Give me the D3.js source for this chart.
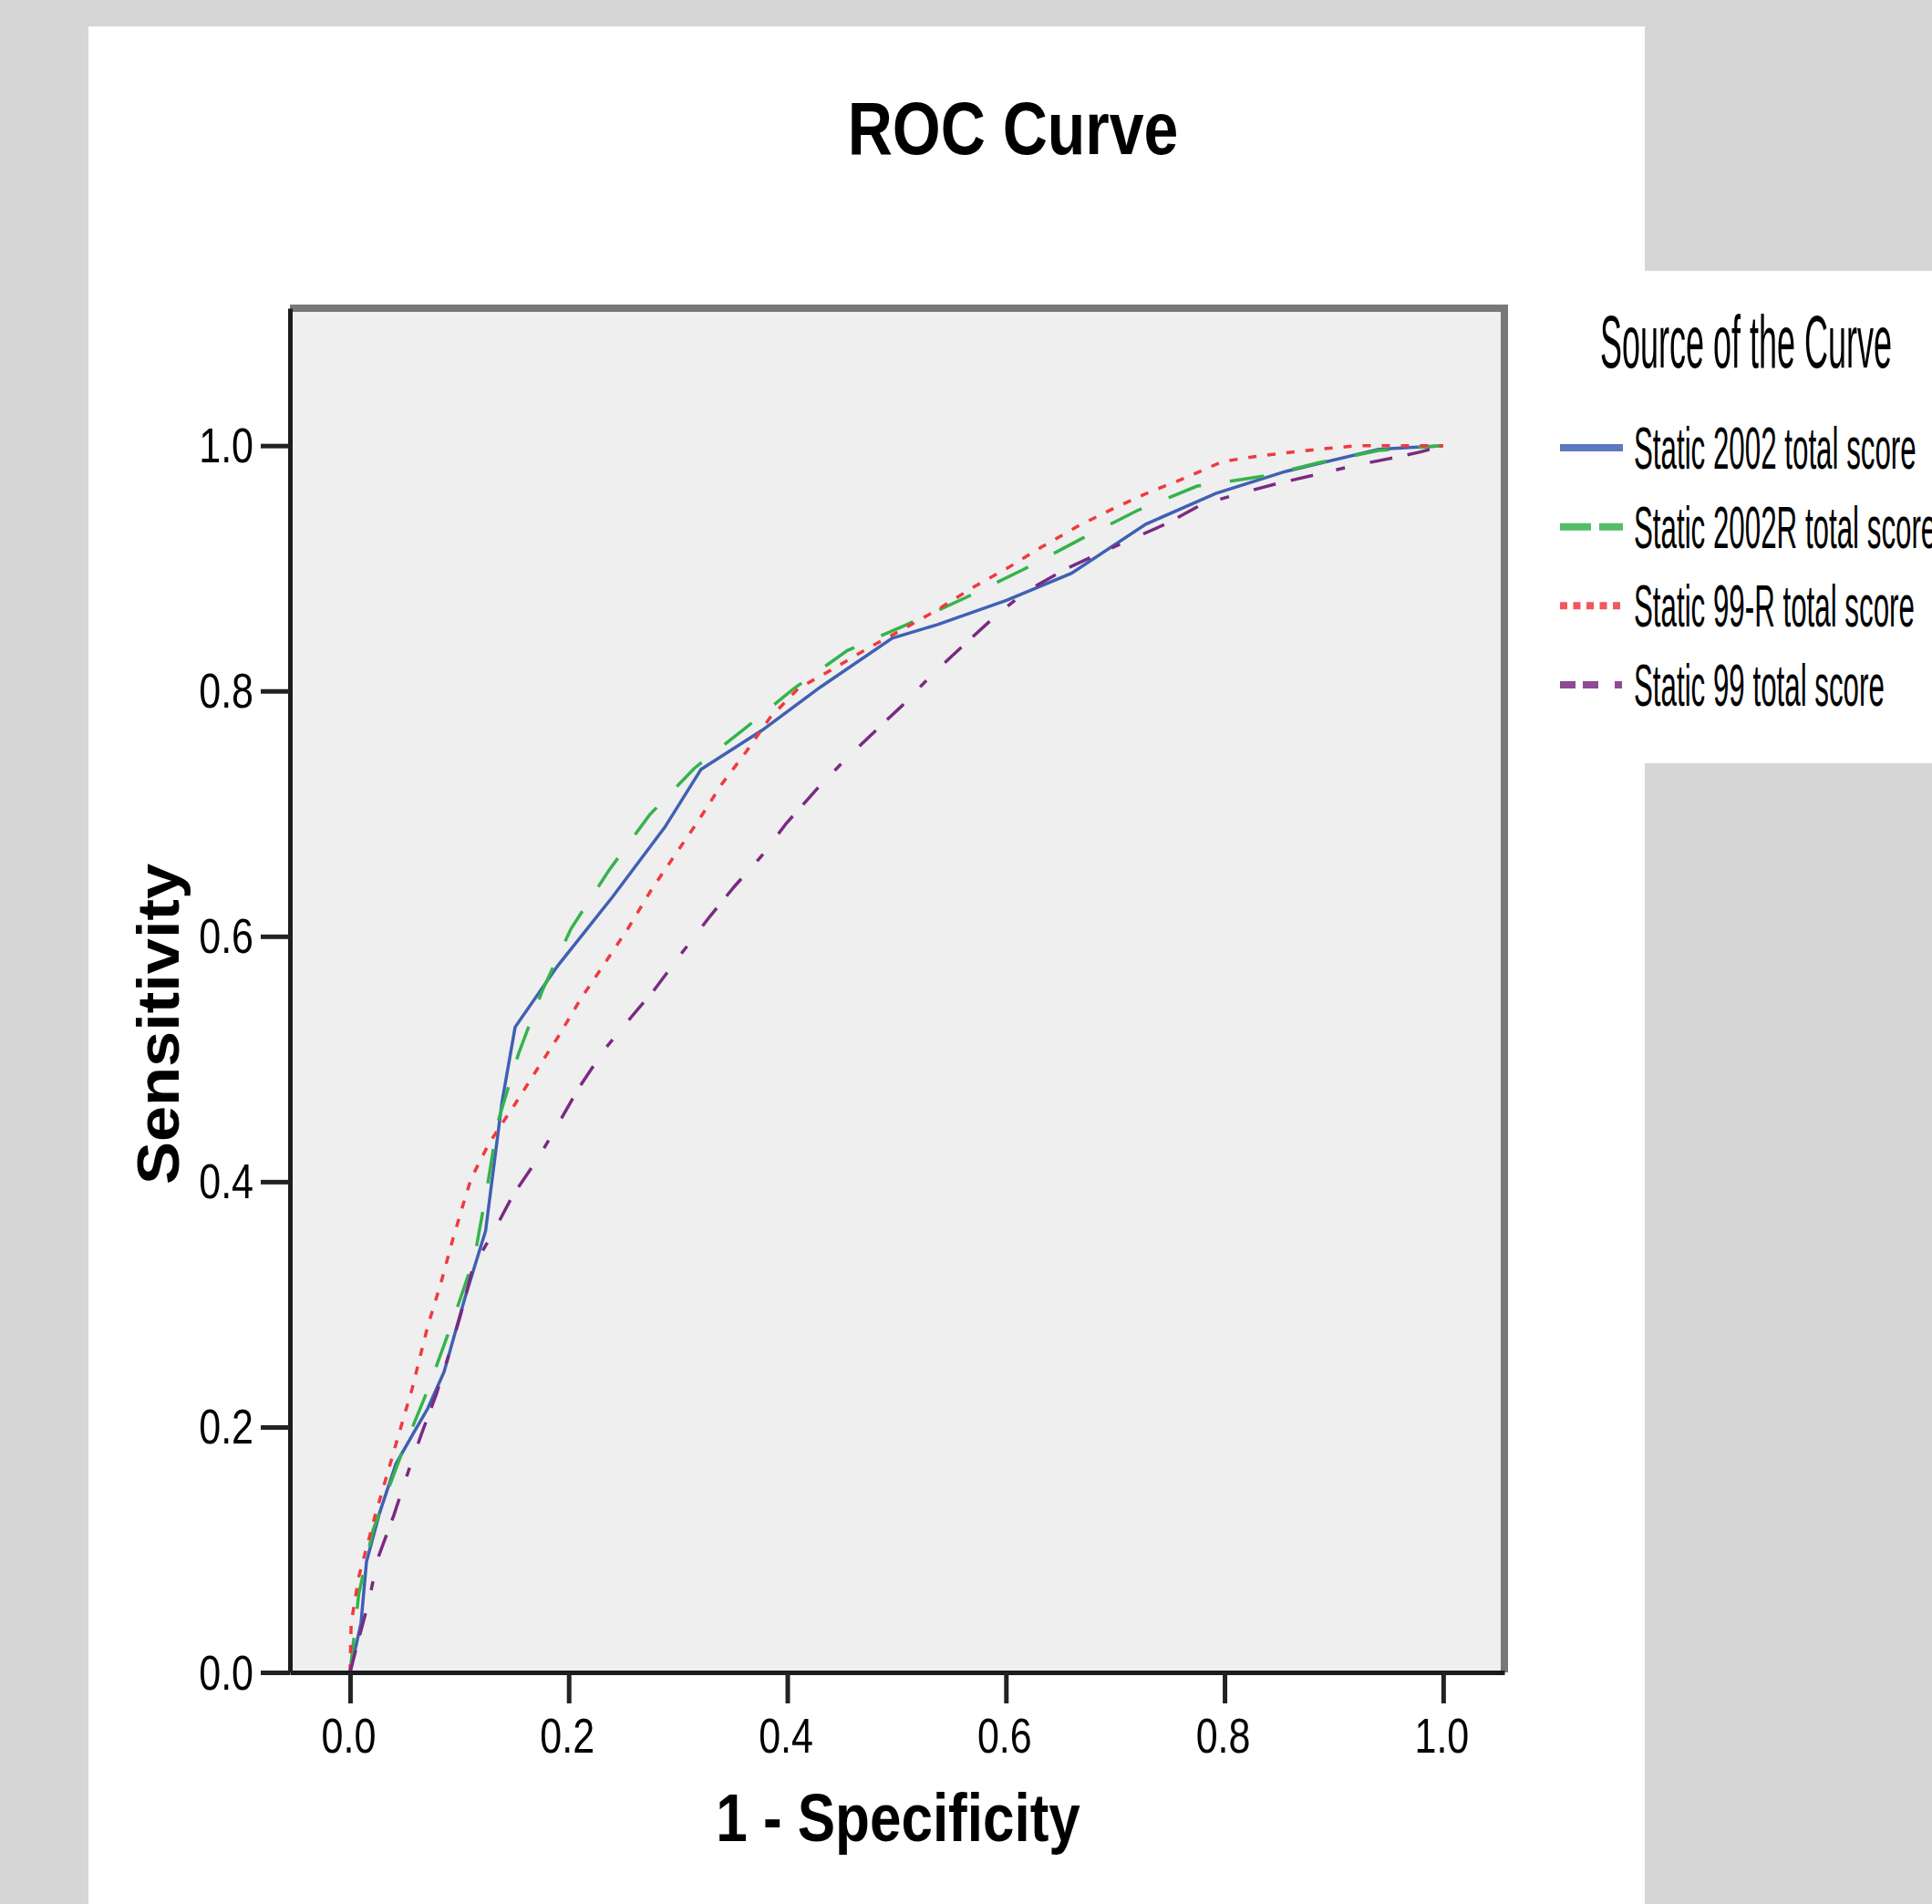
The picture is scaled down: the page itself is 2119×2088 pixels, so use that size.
<!DOCTYPE html>
<html>
<head>
<meta charset="utf-8">
<script src="https://cdn.jsdelivr.net/npm/d3@7/dist/d3.min.js"></script>
<style>
body { margin: 0; background: #d6d6d6; }
svg { display: block; font-family: "Liberation Sans", Arial, sans-serif; }
</style>
</head>
<body>
<div id="roc"></div>
<script>
var static2002 = [[0, 0], [0.005, 0.02], [0.01, 0.04], [0.015, 0.09], [0.027, 0.13], [0.042, 0.17],
    [0.058, 0.195], [0.071, 0.215], [0.086, 0.245], [0.105, 0.305], [0.124, 0.36], [0.139, 0.465],
    [0.151, 0.526], [0.19, 0.576], [0.24, 0.632], [0.288, 0.689], [0.321, 0.736], [0.377, 0.768],
    [0.43, 0.803], [0.496, 0.843], [0.537, 0.854], [0.601, 0.874], [0.66, 0.896], [0.728, 0.936],
    [0.792, 0.961], [0.856, 0.979], [0.941, 0.997], [1, 1]];
var static2002R = [[0, 0], [0.008, 0.064], [0.021, 0.116], [0.047, 0.178], [0.071, 0.23], [0.093, 0.284],
    [0.114, 0.339], [0.125, 0.393], [0.135, 0.448], [0.154, 0.504], [0.176, 0.556], [0.202, 0.606],
    [0.237, 0.654], [0.274, 0.699], [0.315, 0.737], [0.362, 0.77], [0.406, 0.802], [0.455, 0.833],
    [0.509, 0.854], [0.563, 0.876], [0.616, 0.899], [0.669, 0.924], [0.72, 0.947], [0.775, 0.967],
    [0.835, 0.975], [0.886, 0.986], [0.941, 0.996], [1, 1]];
var static99R = [[0, 0], [0.001, 0.04], [0.008, 0.078], [0.023, 0.128], [0.04, 0.18], [0.057, 0.232],
    [0.071, 0.282], [0.083, 0.317], [0.094, 0.353], [0.105, 0.386], [0.111, 0.403], [0.127, 0.431],
    [0.15, 0.462], [0.17, 0.49], [0.191, 0.519], [0.211, 0.549], [0.233, 0.578], [0.254, 0.606],
    [0.275, 0.637], [0.297, 0.666], [0.317, 0.692], [0.34, 0.724], [0.362, 0.75], [0.384, 0.778],
    [0.41, 0.802], [0.44, 0.817], [0.474, 0.835], [0.507, 0.851], [0.537, 0.866], [0.569, 0.884],
    [0.603, 0.901], [0.632, 0.917], [0.665, 0.934], [0.699, 0.949], [0.731, 0.962], [0.765, 0.974],
    [0.798, 0.987], [0.835, 0.992], [0.886, 0.997], [0.922, 1.0], [1, 1]];
var static99 = [[0, 0], [0.006, 0.021], [0.0175, 0.059], [0.025, 0.092], [0.04, 0.128], [0.053, 0.163],
    [0.066, 0.196], [0.079, 0.227], [0.09, 0.258], [0.101, 0.291], [0.112, 0.329], [0.133, 0.362],
    [0.149, 0.389], [0.172, 0.419], [0.191, 0.448], [0.209, 0.476], [0.232, 0.507], [0.258, 0.535],
    [0.278, 0.556], [0.304, 0.587], [0.329, 0.616], [0.351, 0.64], [0.377, 0.666], [0.399, 0.692],
    [0.431, 0.724], [0.452, 0.743], [0.48, 0.767], [0.505, 0.788], [0.532, 0.813], [0.562, 0.838],
    [0.594, 0.864], [0.62, 0.882], [0.656, 0.9], [0.69, 0.914], [0.746, 0.936], [0.779, 0.952],
    [0.814, 0.961], [0.848, 0.969], [0.882, 0.976], [0.92, 0.984], [0.954, 0.99], [0.98, 0.995], [1, 1]];

var seriesNames = ["Static 2002 total score", "Static 2002R total score", "Static 99-R total score", "Static 99 total score"];
var seriesData = [static2002, static2002R, static99R, static99];
var tickValues = [0, 0.2, 0.4, 0.6, 0.8, 1.0];

var colors = ["#4060b4", "#35b34c", "#f03a3e", "#7a2a82"];
var plotDash = [null, "38,32", "9,12", "25,17,25,26,10,28"];
var legendDash = [null, "34,9", "8,6.5", "17,8,17,18,8,18"];

var svgWidth = 2119;
var svgHeight = 2088;
var frame = {left: 318, right: 1650, top: 338, bottom: 1834};

var svg = d3.select("#roc")
    .append("svg")
    .attr("width", svgWidth)
    .attr("height", svgHeight);

// grey page, white chart panel and the legend panel sticking out to the right
svg.append("rect").attr("width", svgWidth).attr("height", svgHeight).attr("fill", "#d6d6d6");
svg.append("rect").attr("x", 97).attr("y", 29).attr("width", 1707).attr("height", svgHeight - 29).attr("fill", "#ffffff");
svg.append("rect").attr("x", 1804).attr("y", 297).attr("width", svgWidth - 1804).attr("height", 540).attr("fill", "#ffffff");

var xScale = d3.scaleLinear()
    .domain([-0.055, 1.056])
    .range([frame.left, frame.right]);
var yScale = d3.scaleLinear()
    .domain([0, 1.112])
    .range([frame.bottom, frame.top]);

svg.append("rect")
    .attr("x", frame.left)
    .attr("y", frame.top)
    .attr("width", frame.right - frame.left)
    .attr("height", frame.bottom - frame.top)
    .attr("fill", "#efefef");

// top and right edge of the frame
svg.append("path")
    .attr("d", "M" + frame.left + "," + frame.top + "H" + frame.right + "V" + frame.bottom)
    .attr("fill", "none")
    .attr("stroke", "#787878")
    .attr("stroke-width", 8);

var line = d3.line()
    .x(d => xScale(d[0]))
    .y(d => yScale(d[1]));

svg.selectAll(".curve")
    .data(seriesData)
    .enter()
    .append("path")
    .attr("class", "curve")
    .attr("d", line)
    .attr("fill", "none")
    .attr("stroke", (d, i) => colors[i])
    .attr("stroke-width", 3.5)
    .attr("stroke-dasharray", (d, i) => plotDash[i]);

var xAxis = d3.axisBottom(xScale)
    .tickValues(tickValues)
    .tickFormat(d3.format(".1f"))
    .tickSize(34)
    .tickSizeOuter(0);
var yAxis = d3.axisLeft(yScale)
    .tickValues(tickValues)
    .tickFormat(d3.format(".1f"))
    .tickSize(32)
    .tickSizeOuter(0);

var xAxisGroup = svg.append("g")
    .attr("transform", "translate(0," + frame.bottom + ")")
    .call(xAxis);
var yAxisGroup = svg.append("g")
    .attr("transform", "translate(" + frame.left + ",0)")
    .call(yAxis);

[xAxisGroup, yAxisGroup].forEach(function (g) {
    g.select(".domain").attr("stroke", "#1c1c1c").attr("stroke-width", 5);
    g.selectAll(".tick line").attr("stroke", "#222").attr("stroke-width", 5);
    g.selectAll(".tick text")
        .attr("fill", "#000")
        .style("font-size", "43px")
        .style("font-family", "'Liberation Sans', Arial, sans-serif");
});
// the picture is stretched vertically, so the text is too
xAxisGroup.selectAll(".tick text")
    .attr("y", 0).attr("dy", 0)
    .attr("transform", "translate(-2,88) scale(1,1.25)");
yAxisGroup.selectAll(".tick text")
    .attr("x", -40).attr("dy", 0)
    .attr("transform", "translate(0,18) scale(1,1.25)");

svg.append("text")
    .attr("transform", "translate(1111,169) scale(1,1.19)")
    .attr("text-anchor", "middle")
    .style("font-size", "68px")
    .style("font-weight", "bold")
    .text("ROC Curve");

svg.append("text")
    .attr("transform", "translate(985,2019) scale(1,1.21)")
    .attr("text-anchor", "middle")
    .style("font-size", "62px")
    .style("font-weight", "bold")
    .text("1 - Specificity");

svg.append("text")
    .attr("transform", "translate(196,1123) rotate(-90) scale(1.1,1)")
    .attr("text-anchor", "middle")
    .style("font-size", "64px")
    .style("font-weight", "bold")
    .text("Sensitivity");

// legend
var legend = svg.append("g");
legend.append("text")
    .attr("transform", "translate(1915,403) scale(1,2.25)")
    .attr("text-anchor", "middle")
    .style("font-size", "36px")
    .text("Source of the Curve");

var legendY = d3.scalePoint()
    .domain(seriesNames)
    .range([491, 751]);

var items = legend.selectAll(".item")
    .data(seriesNames)
    .enter()
    .append("g")
    .attr("class", "item")
    .attr("transform", d => "translate(0," + legendY(d) + ")");

items.append("line")
    .attr("x1", 1711)
    .attr("x2", 1780)
    .attr("stroke", (d, i) => colors[i])
    .attr("stroke-width", 8)
    .attr("stroke-opacity", 0.85)
    .attr("stroke-dasharray", (d, i) => legendDash[i]);

items.append("text")
    .attr("transform", "translate(1792,23) scale(1,2.07)")
    .style("font-size", "31.3px")
    .text(d => d);
</script>
</body>
</html>
